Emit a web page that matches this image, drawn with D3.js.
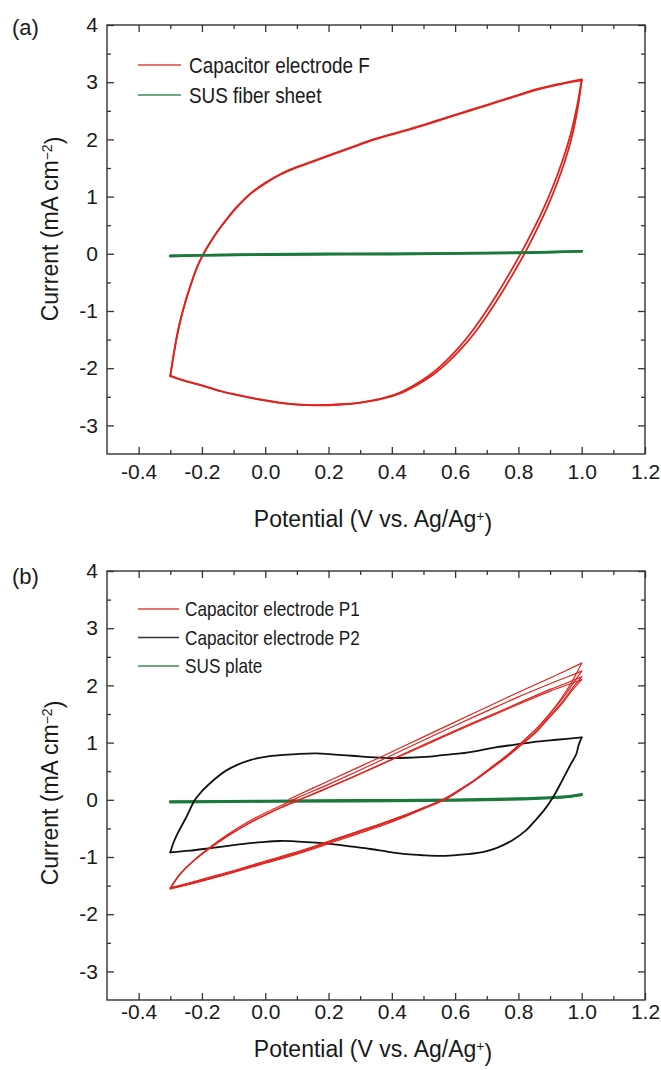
<!DOCTYPE html>
<html>
<head>
<meta charset="utf-8">
<script src="https://cdn.jsdelivr.net/npm/d3@7"></script>
<style>
  body { margin: 0; background: #fff; }
  svg { display: block; }
  text { font-family: "Liberation Sans", Arial, Helvetica, sans-serif; fill: #1a1a1a; }
</style>
</head>
<body>
<svg id="chart" width="661" height="1070"></svg>
<script>
// ---- axis setup ----
const xDomain = [-0.5, 1.2];
const yDomain = [-3.5, 4];
const xTicks = [-0.4, -0.2, 0.0, 0.2, 0.4, 0.6, 0.8, 1.0, 1.2];
const xMinorTicks = [-0.3, -0.1, 0.1, 0.3, 0.5, 0.7, 0.9, 1.1];
const yTicks = [-3, -2, -1, 0, 1, 2, 3, 4];
const yMinorTicks = [-2.5, -1.5, -0.5, 0.5, 1.5, 2.5, 3.5];
const xTickLabels = ["-0.4", "-0.2", "0.0", "0.2", "0.4", "0.6", "0.8", "1.0", "1.2"];
const yTickLabels = ["-3", "-2", "-1", "0", "1", "2", "3", "4"];

// ---- (a) capacitor electrode F, two cycles, [potential V, current mA cm-2] ----
const electrodeF_anodic1 = [[-0.30,-2.13],[-0.29,-1.78],[-0.278,-1.42],[-0.265,-1.10],[-0.25,-0.80],[-0.235,-0.54],[-0.215,-0.23],[-0.195,0.0],[-0.175,0.19],[-0.15,0.40],[-0.12,0.62],[-0.09,0.82],[-0.05,1.04],[0.0,1.24],[0.05,1.40],[0.10,1.52],[0.16,1.64],[0.22,1.76],[0.28,1.88],[0.33,1.98],[0.39,2.08],[0.45,2.17],[0.503,2.26],[0.56,2.36],[0.617,2.46],[0.675,2.56],[0.732,2.66],[0.79,2.76],[0.846,2.86],[0.92,2.96],[1.0,3.05]];
const electrodeF_cathodic1 = [[1.0,3.05],[0.985,2.57],[0.965,2.09],[0.94,1.64],[0.91,1.19],[0.88,0.80],[0.845,0.40],[0.81,0.03],[0.77,-0.36],[0.73,-0.73],[0.69,-1.07],[0.65,-1.38],[0.61,-1.65],[0.57,-1.88],[0.52,-2.12],[0.47,-2.30],[0.42,-2.44],[0.36,-2.54],[0.30,-2.60],[0.24,-2.63],[0.16,-2.645],[0.10,-2.633],[0.04,-2.597],[-0.02,-2.543],[-0.08,-2.477],[-0.14,-2.40],[-0.20,-2.30],[-0.26,-2.21],[-0.30,-2.13]];
const electrodeF_anodic2 = [[-0.30,-2.14],[-0.29,-1.79],[-0.279,-1.43],[-0.266,-1.11],[-0.251,-0.81],[-0.236,-0.55],[-0.216,-0.24],[-0.196,-0.01],[-0.176,0.18],[-0.151,0.39],[-0.12,0.61],[-0.09,0.81],[-0.05,1.03],[0.0,1.23],[0.05,1.39],[0.10,1.51],[0.16,1.63],[0.22,1.75],[0.28,1.87],[0.33,1.97],[0.39,2.07],[0.45,2.16],[0.503,2.25],[0.56,2.35],[0.617,2.45],[0.675,2.55],[0.732,2.65],[0.79,2.75],[0.846,2.85],[0.92,2.95],[1.0,3.03]];
const electrodeF_cathodic2 = [[1.0,3.03],[0.988,2.57],[0.971,2.09],[0.948,1.64],[0.919,1.19],[0.89,0.80],[0.856,0.40],[0.822,0.03],[0.782,-0.36],[0.742,-0.73],[0.702,-1.07],[0.662,-1.38],[0.621,-1.65],[0.58,-1.88],[0.529,-2.12],[0.477,-2.30],[0.426,-2.44],[0.364,-2.54],[0.302,-2.60],[0.24,-2.635],[0.16,-2.65],[0.10,-2.638],[0.04,-2.60],[-0.02,-2.546],[-0.08,-2.48],[-0.14,-2.403],[-0.20,-2.305],[-0.26,-2.215],[-0.30,-2.14]];
const susFiberSheet = [[-0.30,-0.04],[-0.2,-0.025],[0.0,-0.01],[0.2,0.0],[0.4,0.0],[0.6,0.01],[0.8,0.02],[0.9,0.03],[1.0,0.045],[0.8,0.015],[0.4,-0.005],[0.0,-0.015],[-0.30,-0.035]];

// ---- (b) capacitor electrodes P1 (four sweeps) and P2, SUS plate ----
const electrodeP1_anodic1 = [[0.075,0.01],[0.2,0.33],[0.35,0.71],[0.5,1.10],[0.65,1.49],[0.8,1.88],[0.9,2.13],[1.0,2.39]];
const electrodeP1_cathodic1 = [[1.0,2.39],[0.975,2.12],[0.945,1.85],[0.91,1.58],[0.87,1.32],[0.82,1.05],[0.77,0.80],[0.72,0.58],[0.67,0.37],[0.62,0.18],[0.57,0.01],[0.5,-0.16],[0.44,-0.30],[0.37,-0.45],[0.3,-0.58],[0.22,-0.73],[0.1,-0.95],[0.0,-1.11],[-0.12,-1.30],[-0.24,-1.48],[-0.3,-1.56]];
const electrodeP1_anodic2 = [[-0.3,-1.56],[-0.27,-1.31],[-0.23,-1.08],[-0.18,-0.85],[-0.12,-0.61],[-0.05,-0.37],[0.0,-0.23],[0.05,-0.10],[0.1,0.03],[0.2,0.27],[0.3,0.52],[0.4,0.78],[0.5,1.04],[0.6,1.30],[0.7,1.55],[0.8,1.80],[0.9,2.03],[0.96,2.16],[1.0,2.25]];
const electrodeP1_cathodic2 = [[1.0,2.25],[0.972,2.03],[0.942,1.79],[0.903,1.53],[0.862,1.27],[0.812,1.01],[0.762,0.77],[0.712,0.56],[0.662,0.35],[0.612,0.17],[0.562,0.0],[0.5,-0.15],[0.44,-0.29],[0.37,-0.43],[0.3,-0.56],[0.22,-0.71],[0.1,-0.93],[0.0,-1.09],[-0.12,-1.29],[-0.24,-1.47],[-0.3,-1.55]];
const electrodeP1_anodic3 = [[-0.3,-1.55],[-0.27,-1.30],[-0.23,-1.08],[-0.18,-0.86],[-0.12,-0.63],[-0.05,-0.40],[0.0,-0.26],[0.05,-0.13],[0.107,0.0],[0.2,0.22],[0.3,0.46],[0.4,0.71],[0.5,0.96],[0.6,1.21],[0.7,1.45],[0.8,1.69],[0.9,1.93],[0.96,2.06],[1.0,2.15]];
const electrodeP1_cathodic3 = [[1.0,2.15],[0.97,1.95],[0.94,1.72],[0.9,1.47],[0.86,1.22],[0.81,0.97],[0.76,0.74],[0.71,0.53],[0.66,0.33],[0.61,0.16],[0.56,0.0],[0.5,-0.14],[0.44,-0.27],[0.37,-0.41],[0.3,-0.54],[0.22,-0.69],[0.1,-0.91],[0.0,-1.07],[-0.12,-1.27],[-0.24,-1.45],[-0.3,-1.54]];
const electrodeP1_anodic4 = [[-0.3,-1.54],[-0.27,-1.31],[-0.23,-1.09],[-0.18,-0.87],[-0.12,-0.64],[-0.05,-0.41],[0.0,-0.27],[0.05,-0.14],[0.11,0.0],[0.2,0.21],[0.3,0.45],[0.4,0.70],[0.5,0.94],[0.6,1.19],[0.7,1.43],[0.8,1.67],[0.9,1.90],[0.96,2.02],[1.0,2.10]];
const electrodeP1_cathodic4 = [[1.0,2.10],[0.968,1.90],[0.936,1.67],[0.895,1.42],[0.854,1.17],[0.803,0.93],[0.752,0.70],[0.702,0.50],[0.652,0.30],[0.602,0.13],[0.552,-0.02],[0.49,-0.16],[0.43,-0.29],[0.36,-0.43],[0.29,-0.56],[0.21,-0.71],[0.1,-0.93],[0.0,-1.09],[-0.12,-1.29],[-0.24,-1.47],[-0.3,-1.54]];

const electrodeP2_anodic = [[-0.3,-0.92],[-0.29,-0.75],[-0.278,-0.60],[-0.25,-0.31],[-0.222,0.0],[-0.2,0.15],[-0.16,0.36],[-0.124,0.51],[-0.085,0.62],[-0.045,0.70],[0.0,0.75],[0.047,0.78],[0.1,0.80],[0.161,0.81],[0.22,0.79],[0.275,0.77],[0.33,0.745],[0.389,0.73],[0.45,0.735],[0.503,0.75],[0.56,0.78],[0.617,0.81],[0.675,0.86],[0.732,0.92],[0.79,0.965],[0.846,1.01],[0.92,1.05],[1.0,1.09]];
const electrodeP2_cathodic = [[1.0,1.09],[0.99,0.95],[0.983,0.80],[0.966,0.63],[0.949,0.45],[0.93,0.25],[0.909,0.04],[0.88,-0.19],[0.85,-0.38],[0.823,-0.54],[0.78,-0.71],[0.732,-0.84],[0.69,-0.91],[0.64,-0.95],[0.595,-0.97],[0.549,-0.98],[0.5,-0.97],[0.446,-0.95],[0.39,-0.91],[0.332,-0.86],[0.275,-0.82],[0.218,-0.78],[0.16,-0.75],[0.104,-0.73],[0.047,-0.72],[-0.01,-0.74],[-0.067,-0.77],[-0.124,-0.81],[-0.18,-0.85],[-0.239,-0.89],[-0.3,-0.92]];
const susPlate = [[-0.3,-0.03],[0.0,-0.02],[0.3,-0.01],[0.6,0.0],[0.8,0.02],[0.9,0.04],[0.96,0.06],[1.0,0.09],[0.95,0.05],[0.85,0.02],[0.6,-0.01],[0.0,-0.03],[-0.3,-0.04]];

const legendA = ["Capacitor electrode F", "SUS fiber sheet"];
const legendB = ["Capacitor electrode P1", "Capacitor electrode P2", "SUS plate"];

const RED = "#e0231d", GREEN = "#1b7a3a", BLACK = "#111111";

const svg = d3.select("#chart");

// Split a sweep into runs that are monotone in potential so each branch is
// smoothed on its own and the vertex corners stay sharp.
function monotoneRuns(pts) {
  const out = [];
  let cur = [pts[0]], dir = 0;
  for (let k = 1; k < pts.length; k++) {
    const d = Math.sign(pts[k][0] - pts[k - 1][0]);
    if (dir !== 0 && d !== 0 && d !== dir) { out.push(cur); cur = [pts[k - 1]]; }
    if (d !== 0) dir = d;
    cur.push(pts[k]);
  }
  out.push(cur);
  return out;
}

function drawPanel(cfg) {
  const x = d3.scaleLinear().domain(xDomain).range([cfg.left, cfg.right]);
  const y = d3.scaleLinear().domain(yDomain).range([cfg.bottom, cfg.top]);
  const g = svg.append("g");
  const axisFont = 21;

  const styleAxis = sel => {
    sel.select(".domain").remove();
    sel.selectAll(".tick line").attr("stroke", "#333").attr("stroke-width", 1.3);
    sel.selectAll("text").style("font-size", axisFont + "px").attr("fill", "#1a1a1a");
  };

  // bottom with labels
  g.append("g").attr("transform", `translate(0,${cfg.bottom})`)
    .call(d3.axisBottom(x).tickValues(xTicks).tickSizeInner(-7).tickSizeOuter(0)
      .tickPadding(cfg.xPad).tickFormat((d, i) => xTickLabels[i]))
    .call(styleAxis);
  g.append("g").attr("transform", `translate(0,${cfg.bottom})`)
    .call(d3.axisBottom(x).tickValues(xMinorTicks).tickSizeInner(-4).tickSizeOuter(0).tickFormat(""))
    .call(styleAxis);
  // top mirror ticks
  g.append("g").attr("transform", `translate(0,${cfg.top})`)
    .call(d3.axisTop(x).tickValues(xTicks).tickSizeInner(-7).tickSizeOuter(0).tickFormat(""))
    .call(styleAxis);
  g.append("g").attr("transform", `translate(0,${cfg.top})`)
    .call(d3.axisTop(x).tickValues(xMinorTicks).tickSizeInner(-4).tickSizeOuter(0).tickFormat(""))
    .call(styleAxis);
  // left with labels
  g.append("g").attr("transform", `translate(${cfg.left},0)`)
    .call(d3.axisLeft(y).tickValues(yTicks).tickSizeInner(-7).tickSizeOuter(0)
      .tickPadding(9).tickFormat((d, i) => yTickLabels[i]))
    .call(styleAxis);
  g.append("g").attr("transform", `translate(${cfg.left},0)`)
    .call(d3.axisLeft(y).tickValues(yMinorTicks).tickSizeInner(-4).tickSizeOuter(0).tickFormat(""))
    .call(styleAxis);
  // right mirror ticks
  g.append("g").attr("transform", `translate(${cfg.right},0)`)
    .call(d3.axisRight(y).tickValues(yTicks).tickSizeInner(-7).tickSizeOuter(0).tickFormat(""))
    .call(styleAxis);
  g.append("g").attr("transform", `translate(${cfg.right},0)`)
    .call(d3.axisRight(y).tickValues(yMinorTicks).tickSizeInner(-4).tickSizeOuter(0).tickFormat(""))
    .call(styleAxis);

  // frame
  g.append("rect")
    .attr("x", cfg.left).attr("y", cfg.top)
    .attr("width", cfg.right - cfg.left).attr("height", cfg.bottom - cfg.top)
    .attr("fill", "none").attr("stroke", "#333").attr("stroke-width", 1.4);

  // curves
  const line = d3.line().x(d => x(d[0])).y(d => y(d[1])).curve(d3.curveCatmullRom.alpha(0.5));
  cfg.series.forEach(s => {
    s.sweeps.forEach(sw => {
      monotoneRuns(sw).forEach(run => {
        g.append("path").attr("d", line(run))
          .attr("fill", "none").attr("stroke", s.color)
          .attr("stroke-width", s.width).attr("stroke-linejoin", "round").attr("stroke-linecap", "round");
      });
    });
  });

  // legend
  cfg.legend.forEach((name, i) => {
    const ly = cfg.legendY + i * cfg.legendStep;
    g.append("line").attr("x1", cfg.legendX1).attr("x2", cfg.legendX2)
      .attr("y1", ly).attr("y2", ly)
      .attr("stroke", cfg.legendColors[i]).attr("stroke-width", 1.6).attr("opacity", 0.85);
    g.append("text")
      .attr("transform", `translate(${cfg.legendTextX},${ly}) scale(0.86,1)`)
      .attr("dy", "0.36em")
      .style("font-size", cfg.legendFont + "px")
      .text(name);
  });

  // axis titles
  const xt = g.append("text")
    .attr("x", (cfg.left + cfg.right) / 2 - 3).attr("y", cfg.xTitleY)
    .attr("text-anchor", "middle").style("font-size", "23px");
  xt.append("tspan").text("Potential (V vs. Ag/Ag");
  xt.append("tspan").attr("dy", "-0.45em").style("font-size", "14px").text("+");
  xt.append("tspan").attr("dy", "0.45em").text(")");

  const yt = g.append("text")
    .attr("transform", `translate(${cfg.yTitleX},${cfg.yTitleCY}) rotate(-90)`)
    .attr("text-anchor", "middle").style("font-size", "23px");
  yt.append("tspan").text("Current (mA cm");
  yt.append("tspan").attr("dy", "-0.45em").style("font-size", "14px").text("\u22122");
  yt.append("tspan").attr("dy", "0.45em").text(")");

  // panel tag
  g.append("text").attr("x", 12).attr("y", cfg.tagY).style("font-size", "22px").text(cfg.tag);
}

drawPanel({
  tag: "(a)", tagY: 35,
  left: 107, right: 645, top: 25, bottom: 454,
  xPad: 10, xTitleY: 527, yTitleX: 58, yTitleCY: 229,
  legend: legendA, legendColors: [RED, GREEN],
  legendX1: 138, legendX2: 181, legendTextX: 189, legendY: 65, legendStep: 30, legendFont: 22,
  series: [
    { color: RED, width: 1.8, sweeps: [electrodeF_anodic1.concat(electrodeF_cathodic1.slice(1)), electrodeF_anodic2.concat(electrodeF_cathodic2.slice(1))] },
    { color: GREEN, width: 2.6, sweeps: [susFiberSheet] }
  ]
});

drawPanel({
  tag: "(b)", tagY: 584,
  left: 107, right: 645, top: 571, bottom: 1000,
  xPad: 4, xTitleY: 1057, yTitleX: 58, yTitleCY: 793,
  legend: legendB, legendColors: [RED, BLACK, GREEN],
  legendX1: 138, legendX2: 179, legendTextX: 185, legendY: 609, legendStep: 28.5, legendFont: 20,
  series: [
    { color: GREEN, width: 2.6, sweeps: [susPlate] },
    { color: BLACK, width: 1.8, sweeps: [electrodeP2_anodic.concat(electrodeP2_cathodic.slice(1))] },
    { color: RED, width: 1.2, sweeps: [
      electrodeP1_anodic1.concat(electrodeP1_cathodic1.slice(1)),
      electrodeP1_anodic2.concat(electrodeP1_cathodic2.slice(1)),
      electrodeP1_anodic3.concat(electrodeP1_cathodic3.slice(1)),
      electrodeP1_anodic4.concat(electrodeP1_cathodic4.slice(1))
    ] }
  ]
});
</script>
</body>
</html>
